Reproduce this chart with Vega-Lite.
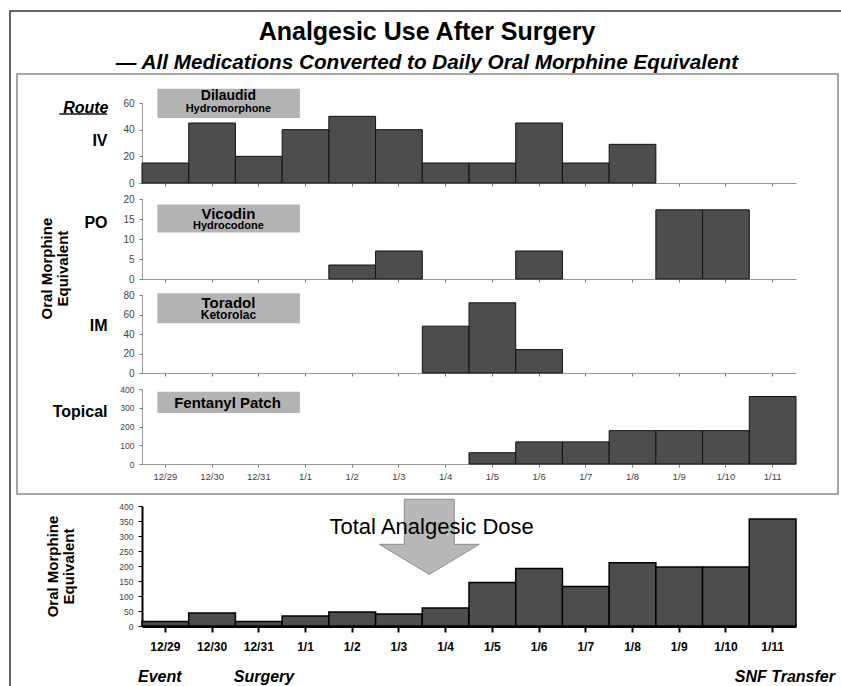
{
  "$schema": "https://vega.github.io/schema/vega-lite/v6.json",
  "background": "white",
  "padding": {"left": 9, "top": 10, "right": 5, "bottom": 0},
  "title": {
    "text": "Analgesic Use After Surgery",
    "subtitle": "— All Medications Converted to Daily Oral Morphine Equivalent",
    "font": "Liberation Sans",
    "fontSize": 25,
    "fontWeight": "bold",
    "color": "black",
    "subtitleFont": "Liberation Sans",
    "subtitleFontSize": 20.7,
    "subtitleFontWeight": "bold",
    "subtitleFontStyle": "italic",
    "subtitleColor": "black",
    "subtitlePadding": 8,
    "anchor": "middle",
    "dx": -8,
    "offset": -62
  },
  "datasets": {
    "iv": [
      {"date": "12/29", "value": 15}, {"date": "12/30", "value": 45}, {"date": "12/31", "value": 20},
      {"date": "1/1", "value": 40}, {"date": "1/2", "value": 50}, {"date": "1/3", "value": 40},
      {"date": "1/4", "value": 15}, {"date": "1/5", "value": 15}, {"date": "1/6", "value": 45},
      {"date": "1/7", "value": 15}, {"date": "1/8", "value": 29}
    ],
    "po": [
      {"date": "1/2", "value": 3.5}, {"date": "1/3", "value": 7}, {"date": "1/6", "value": 7},
      {"date": "1/9", "value": 17.3}, {"date": "1/10", "value": 17.3}
    ],
    "im": [
      {"date": "1/4", "value": 48}, {"date": "1/5", "value": 72}, {"date": "1/6", "value": 24}
    ],
    "topical": [
      {"date": "1/5", "value": 60}, {"date": "1/6", "value": 118}, {"date": "1/7", "value": 118},
      {"date": "1/8", "value": 178}, {"date": "1/9", "value": 178}, {"date": "1/10", "value": 178},
      {"date": "1/11", "value": 360}
    ],
    "total": [
      {"date": "12/29", "value": 15}, {"date": "12/30", "value": 43}, {"date": "12/31", "value": 15},
      {"date": "1/1", "value": 33}, {"date": "1/2", "value": 47}, {"date": "1/3", "value": 40},
      {"date": "1/4", "value": 60}, {"date": "1/5", "value": 145}, {"date": "1/6", "value": 192},
      {"date": "1/7", "value": 132}, {"date": "1/8", "value": 211}, {"date": "1/9", "value": 197},
      {"date": "1/10", "value": 197}, {"date": "1/11", "value": 357}
    ]
  },
  "vconcat": [
    {
      "title": {
        "text": ["Oral Morphine", "Equivalent"],
        "orient": "left",
        "anchor": "middle",
        "font": "Liberation Sans",
        "fontSize": 15,
        "fontWeight": "bold",
        "lineHeight": 16,
        "color": "black",
        "offset": -19,
        "dx": 16
      },
      "spacing": 16,
      "bounds": "flush",
      "vconcat": [
        {
          "width": 654, "height": 80,
          "layer": [
            {
              "data": {"name": "iv"},
              "mark": {"type": "bar", "fill": "#4d4d4d", "stroke": "#111111", "strokeWidth": 1},
              "encoding": {
                "x": {"field": "date", "type": "ordinal", "sort": null,
                  "scale": {"domain": ["12/29","12/30","12/31","1/1","1/2","1/3","1/4","1/5","1/6","1/7","1/8","1/9","1/10","1/11"], "paddingInner": 0, "paddingOuter": 0},
                  "axis": {"labels": false, "title": null, "tickSize": 3, "domainColor": "#999999", "tickColor": "#777777"}},
                "y": {"field": "value", "type": "quantitative", "scale": {"domain": [0, 60], "nice": false},
                  "axis": {"values": [0, 20, 40, 60], "labelFontSize": 10, "labelColor": "#444444", "tickSize": 3, "labelPadding": 5, "domainColor": "#999999", "tickColor": "#777777",
                    "title": "IV", "titleAngle": 0, "titleAlign": "right", "titleBaseline": "middle", "titleX": -35, "titleY": 37, "titleFontSize": 16, "titleFontWeight": "bold"}}
              }
            },
            {
              "data": {"values": [{"name": "Dilaudid", "generic": "Hydromorphone"}]},
              "mark": {"type": "rect", "fill": "#b3b3b3"},
              "encoding": {
                "x": {"datum": 0.33, "type": "quantitative", "scale": {"domain": [0, 14], "nice": false, "zero": false}, "axis": null},
                "x2": {"datum": 3.38},
                "y": {"datum": 70.7, "type": "quantitative", "scale": {"domain": [0, 60], "nice": false},
                  "axis": {"orient": "left", "labels": false, "ticks": false, "domain": false, "grid": false,
                    "title": "Route", "titleAngle": 0, "titleAlign": "right", "titleBaseline": "middle", "titleX": -34, "titleY": 4, "titleFontSize": 16, "titleFontWeight": "bold", "titleFontStyle": "italic"}},
                "y2": {"datum": 48.8}
              }
            },
            {
              "data": {"values": [{"name": "Route underline"}]},
              "mark": {"type": "rule", "stroke": "#111111", "strokeWidth": 1.5},
              "encoding": {
                "x": {"datum": -1.77, "type": "quantitative", "scale": {"domain": [0, 14], "nice": false, "zero": false}, "axis": null},
                "x2": {"datum": -0.75},
                "y": {"datum": 51.8, "type": "quantitative", "scale": {"domain": [0, 60], "nice": false}, "axis": null}
              }
            },
            {
              "data": {"values": [{"name": "Dilaudid", "generic": "Hydromorphone"}]},
              "mark": {"type": "text", "fontSize": 14, "fontWeight": "bold", "color": "black"},
              "encoding": {
                "x": {"datum": 1.85, "type": "quantitative", "scale": {"domain": [0, 14], "nice": false, "zero": false}, "axis": null},
                "y": {"datum": 65.5, "type": "quantitative", "scale": {"domain": [0, 60], "nice": false}, "axis": null},
                "text": {"field": "name"}
              }
            },
            {
              "data": {"values": [{"name": "Dilaudid", "generic": "Hydromorphone"}]},
              "mark": {"type": "text", "fontSize": 11, "fontWeight": "bold", "color": "black"},
              "encoding": {
                "x": {"datum": 1.85, "type": "quantitative", "scale": {"domain": [0, 14], "nice": false, "zero": false}, "axis": null},
                "y": {"datum": 55.7, "type": "quantitative", "scale": {"domain": [0, 60], "nice": false}, "axis": null},
                "text": {"field": "generic"}
              }
            }
          ],
          "resolve": {"scale": {"x": "independent"}, "axis": {"y": "independent"}}
        },
        {
          "width": 654, "height": 80,
          "layer": [
            {
              "data": {"name": "po"},
              "mark": {"type": "bar", "fill": "#4d4d4d", "stroke": "#111111", "strokeWidth": 1},
              "encoding": {
                "x": {"field": "date", "type": "ordinal", "sort": null,
                  "scale": {"domain": ["12/29","12/30","12/31","1/1","1/2","1/3","1/4","1/5","1/6","1/7","1/8","1/9","1/10","1/11"], "paddingInner": 0, "paddingOuter": 0},
                  "axis": {"labels": false, "title": null, "tickSize": 3, "domainColor": "#999999", "tickColor": "#777777"}},
                "y": {"field": "value", "type": "quantitative", "scale": {"domain": [0, 20], "nice": false},
                  "axis": {"values": [0, 5, 10, 15, 20], "labelFontSize": 10, "labelColor": "#444444", "tickSize": 3, "labelPadding": 5, "domainColor": "#999999", "tickColor": "#777777",
                    "title": "PO", "titleAngle": 0, "titleAlign": "right", "titleBaseline": "middle", "titleX": -35, "titleY": 23, "titleFontSize": 16, "titleFontWeight": "bold"}}
              }
            },
            {
              "data": {"values": [{"name": "Vicodin", "generic": "Hydrocodone"}]},
              "mark": {"type": "rect", "fill": "#b3b3b3"},
              "encoding": {
                "x": {"datum": 0.33, "type": "quantitative", "scale": {"domain": [0, 14], "nice": false, "zero": false}, "axis": null},
                "x2": {"datum": 3.38},
                "y": {"datum": 18.65, "type": "quantitative", "scale": {"domain": [0, 20], "nice": false}, "axis": null},
                "y2": {"datum": 11.6}
              }
            },
            {
              "data": {"values": [{"name": "Vicodin", "generic": "Hydrocodone"}]},
              "mark": {"type": "text", "fontSize": 15, "fontWeight": "bold", "color": "black"},
              "encoding": {
                "x": {"datum": 1.85, "type": "quantitative", "scale": {"domain": [0, 14], "nice": false, "zero": false}, "axis": null},
                "y": {"datum": 16.2, "type": "quantitative", "scale": {"domain": [0, 20], "nice": false}, "axis": null},
                "text": {"field": "name"}
              }
            },
            {
              "data": {"values": [{"name": "Vicodin", "generic": "Hydrocodone"}]},
              "mark": {"type": "text", "fontSize": 11, "fontWeight": "bold", "color": "black"},
              "encoding": {
                "x": {"datum": 1.85, "type": "quantitative", "scale": {"domain": [0, 14], "nice": false, "zero": false}, "axis": null},
                "y": {"datum": 13.3, "type": "quantitative", "scale": {"domain": [0, 20], "nice": false}, "axis": null},
                "text": {"field": "generic"}
              }
            }
          ],
          "resolve": {"scale": {"x": "independent"}, "axis": {"y": "independent"}}
        },
        {
          "width": 654, "height": 78,
          "layer": [
            {
              "data": {"name": "im"},
              "mark": {"type": "bar", "fill": "#4d4d4d", "stroke": "#111111", "strokeWidth": 1},
              "encoding": {
                "x": {"field": "date", "type": "ordinal", "sort": null,
                  "scale": {"domain": ["12/29","12/30","12/31","1/1","1/2","1/3","1/4","1/5","1/6","1/7","1/8","1/9","1/10","1/11"], "paddingInner": 0, "paddingOuter": 0},
                  "axis": {"labels": false, "title": null, "tickSize": 3, "domainColor": "#999999", "tickColor": "#777777"}},
                "y": {"field": "value", "type": "quantitative", "scale": {"domain": [0, 80], "nice": false},
                  "axis": {"values": [0, 20, 40, 60, 80], "labelFontSize": 10, "labelColor": "#444444", "tickSize": 3, "labelPadding": 5, "domainColor": "#999999", "tickColor": "#777777",
                    "title": "IM", "titleAngle": 0, "titleAlign": "right", "titleBaseline": "middle", "titleX": -35, "titleY": 30, "titleFontSize": 16, "titleFontWeight": "bold"}}
              }
            },
            {
              "data": {"values": [{"name": "Toradol", "generic": "Ketorolac"}]},
              "mark": {"type": "rect", "fill": "#b3b3b3"},
              "encoding": {
                "x": {"datum": 0.33, "type": "quantitative", "scale": {"domain": [0, 14], "nice": false, "zero": false}, "axis": null},
                "x2": {"datum": 3.38},
                "y": {"datum": 81.7, "type": "quantitative", "scale": {"domain": [0, 80], "nice": false}, "axis": null},
                "y2": {"datum": 51}
              }
            },
            {
              "data": {"values": [{"name": "Toradol", "generic": "Ketorolac"}]},
              "mark": {"type": "text", "fontSize": 15, "fontWeight": "bold", "color": "black"},
              "encoding": {
                "x": {"datum": 1.85, "type": "quantitative", "scale": {"domain": [0, 14], "nice": false, "zero": false}, "axis": null},
                "y": {"datum": 71.5, "type": "quantitative", "scale": {"domain": [0, 80], "nice": false}, "axis": null},
                "text": {"field": "name"}
              }
            },
            {
              "data": {"values": [{"name": "Toradol", "generic": "Ketorolac"}]},
              "mark": {"type": "text", "fontSize": 12, "fontWeight": "bold", "color": "black"},
              "encoding": {
                "x": {"datum": 1.85, "type": "quantitative", "scale": {"domain": [0, 14], "nice": false, "zero": false}, "axis": null},
                "y": {"datum": 59.2, "type": "quantitative", "scale": {"domain": [0, 80], "nice": false}, "axis": null},
                "text": {"field": "generic"}
              }
            }
          ],
          "resolve": {"scale": {"x": "independent"}, "axis": {"y": "independent"}}
        },
        {
          "width": 654, "height": 75,
          "layer": [
            {
              "data": {"name": "topical"},
              "mark": {"type": "bar", "fill": "#4d4d4d", "stroke": "#111111", "strokeWidth": 1},
              "encoding": {
                "x": {"field": "date", "type": "ordinal", "sort": null,
                  "scale": {"domain": ["12/29","12/30","12/31","1/1","1/2","1/3","1/4","1/5","1/6","1/7","1/8","1/9","1/10","1/11"], "paddingInner": 0, "paddingOuter": 0},
                  "axis": {"title": null, "labelAngle": 0, "labelFontSize": 9.5, "labelColor": "#444444", "labelPadding": 4, "tickSize": 3, "domainColor": "#999999", "tickColor": "#777777"}},
                "y": {"field": "value", "type": "quantitative", "scale": {"domain": [0, 400], "nice": false},
                  "axis": {"values": [0, 100, 200, 300, 400], "labelFontSize": 8.5, "labelColor": "#444444", "tickSize": 3, "labelPadding": 5, "domainColor": "#999999", "tickColor": "#777777",
                    "title": "Topical", "titleAngle": 0, "titleAlign": "right", "titleBaseline": "middle", "titleX": -35, "titleY": 22, "titleFontSize": 16, "titleFontWeight": "bold"}}
              }
            },
            {
              "data": {"values": [{"name": "Fentanyl Patch"}]},
              "mark": {"type": "rect", "fill": "#b3b3b3"},
              "encoding": {
                "x": {"datum": 0.33, "type": "quantitative", "scale": {"domain": [0, 14], "nice": false, "zero": false}, "axis": null},
                "x2": {"datum": 3.38},
                "y": {"datum": 385.8, "type": "quantitative", "scale": {"domain": [0, 400], "nice": false}, "axis": null},
                "y2": {"datum": 271.6}
              }
            },
            {
              "data": {"values": [{"name": "Fentanyl Patch"}]},
              "mark": {"type": "text", "fontSize": 15, "fontWeight": "bold", "color": "black"},
              "encoding": {
                "x": {"datum": 1.83, "type": "quantitative", "scale": {"domain": [0, 14], "nice": false, "zero": false}, "axis": null},
                "y": {"datum": 325, "type": "quantitative", "scale": {"domain": [0, 400], "nice": false}, "axis": null},
                "text": {"field": "name"}
              }
            }
          ],
          "resolve": {"scale": {"x": "independent"}, "axis": {"y": "independent"}}
        }
      ]
    },
    {
      "width": 654, "height": 120,
      "layer": [
        {
          "data": {"values": [{"frame": "outer"}]},
          "mark": {"type": "rect", "fill": null, "fillOpacity": 0, "stroke": "#333333", "strokeWidth": 1.5},
          "encoding": {
            "x": {"datum": -2.826, "type": "quantitative", "scale": {"domain": [0, 14], "nice": false, "zero": false}, "axis": null},
            "x2": {"datum": 15.37},
            "y": {"datum": 2050, "type": "quantitative", "scale": {"domain": [0, 400], "nice": false}, "axis": null},
            "y2": {"datum": -313}
          }
        },
        {
          "data": {"values": [{"frame": "inner"}]},
          "mark": {"type": "rect", "fill": null, "fillOpacity": 0, "stroke": "#8a8a8a", "strokeWidth": 1.5},
          "encoding": {
            "x": {"datum": -2.676, "type": "quantitative", "scale": {"domain": [0, 14], "nice": false, "zero": false}, "axis": null},
            "x2": {"datum": 14.9},
            "y": {"datum": 1840, "type": "quantitative", "scale": {"domain": [0, 400], "nice": false}, "axis": null},
            "y2": {"datum": 440}
          }
        },
        {
          "data": {"name": "total"},
          "mark": {"type": "bar", "fill": "#4d4d4d", "stroke": "#000000", "strokeWidth": 1.5},
          "encoding": {
            "x": {"field": "date", "type": "ordinal", "sort": null,
              "scale": {"domain": ["12/29","12/30","12/31","1/1","1/2","1/3","1/4","1/5","1/6","1/7","1/8","1/9","1/10","1/11"], "paddingInner": 0, "paddingOuter": 0},
              "axis": {"title": null, "labelAngle": 0, "labelFontSize": 12, "labelFontWeight": "bold", "labelColor": "black", "labelPadding": 9, "tickSize": 6, "tickWidth": 2, "tickColor": "black", "domainColor": "black", "domainWidth": 3}},
            "y": {"field": "value", "type": "quantitative", "scale": {"domain": [0, 400], "nice": false},
              "axis": {"values": [0, 50, 100, 150, 200, 250, 300, 350, 400], "labelFontSize": 8.5, "labelColor": "#444444", "tickSize": 4, "tickColor": "black", "labelPadding": 5, "domainColor": "black", "domainWidth": 2,
                "title": ["Oral Morphine", "Equivalent"], "titleFontSize": 15, "titleFontWeight": "bold", "titleLineHeight": 16, "titlePadding": 42}}
          }
        },
        {
          "data": {"values": [{"label": "arrow"}]},
          "mark": {"type": "point", "shape": "M -0.5 -0.74 L 0.5 -0.74 L 0.5 0.16 L 1 0.16 L 0 0.76 L -1 0.16 L -0.5 0.16 Z", "size": 10000, "filled": true, "fill": "#b8b8b8", "stroke": "#8c8c8c", "strokeWidth": 1, "opacity": 1},
          "encoding": {
            "x": {"datum": 6.15, "type": "quantitative", "scale": {"domain": [0, 14], "nice": false, "zero": false},
              "axis": {"orient": "bottom", "values": [0.37, 2.6, 13.75], "labelExpr": "datum.value < 1 ? 'Event' : datum.value < 5 ? 'Surgery' : 'SNF Transfer'",
                "labelFontSize": 16, "labelFontWeight": "bold", "labelFontStyle": "italic", "labelColor": "black", "labelPadding": 42,
                "ticks": false, "domain": false, "grid": false, "title": null, "labelOverlap": false, "labelBound": false, "labelFlush": false}},
            "y": {"datum": 299, "type": "quantitative", "scale": {"domain": [0, 400], "nice": false}, "axis": null}
          }
        },
        {
          "data": {"values": [{"label": "Total Analgesic Dose"}]},
          "mark": {"type": "text", "fontSize": 22, "color": "black"},
          "encoding": {
            "x": {"datum": 6.2, "type": "quantitative", "scale": {"domain": [0, 14], "nice": false, "zero": false}, "axis": null},
            "y": {"datum": 329, "type": "quantitative", "scale": {"domain": [0, 400], "nice": false}, "axis": null},
            "text": {"field": "label"}
          }
        }
      ],
      "resolve": {"scale": {"x": "independent"}, "axis": {"y": "independent"}}
    }
  ],
  "spacing": -471,
  "config": {
    "view": {"stroke": null},
    "font": "Liberation Sans",
    "axis": {"grid": false, "labelFont": "Liberation Sans", "titleFont": "Liberation Sans", "titleColor": "black"}
  }
}
